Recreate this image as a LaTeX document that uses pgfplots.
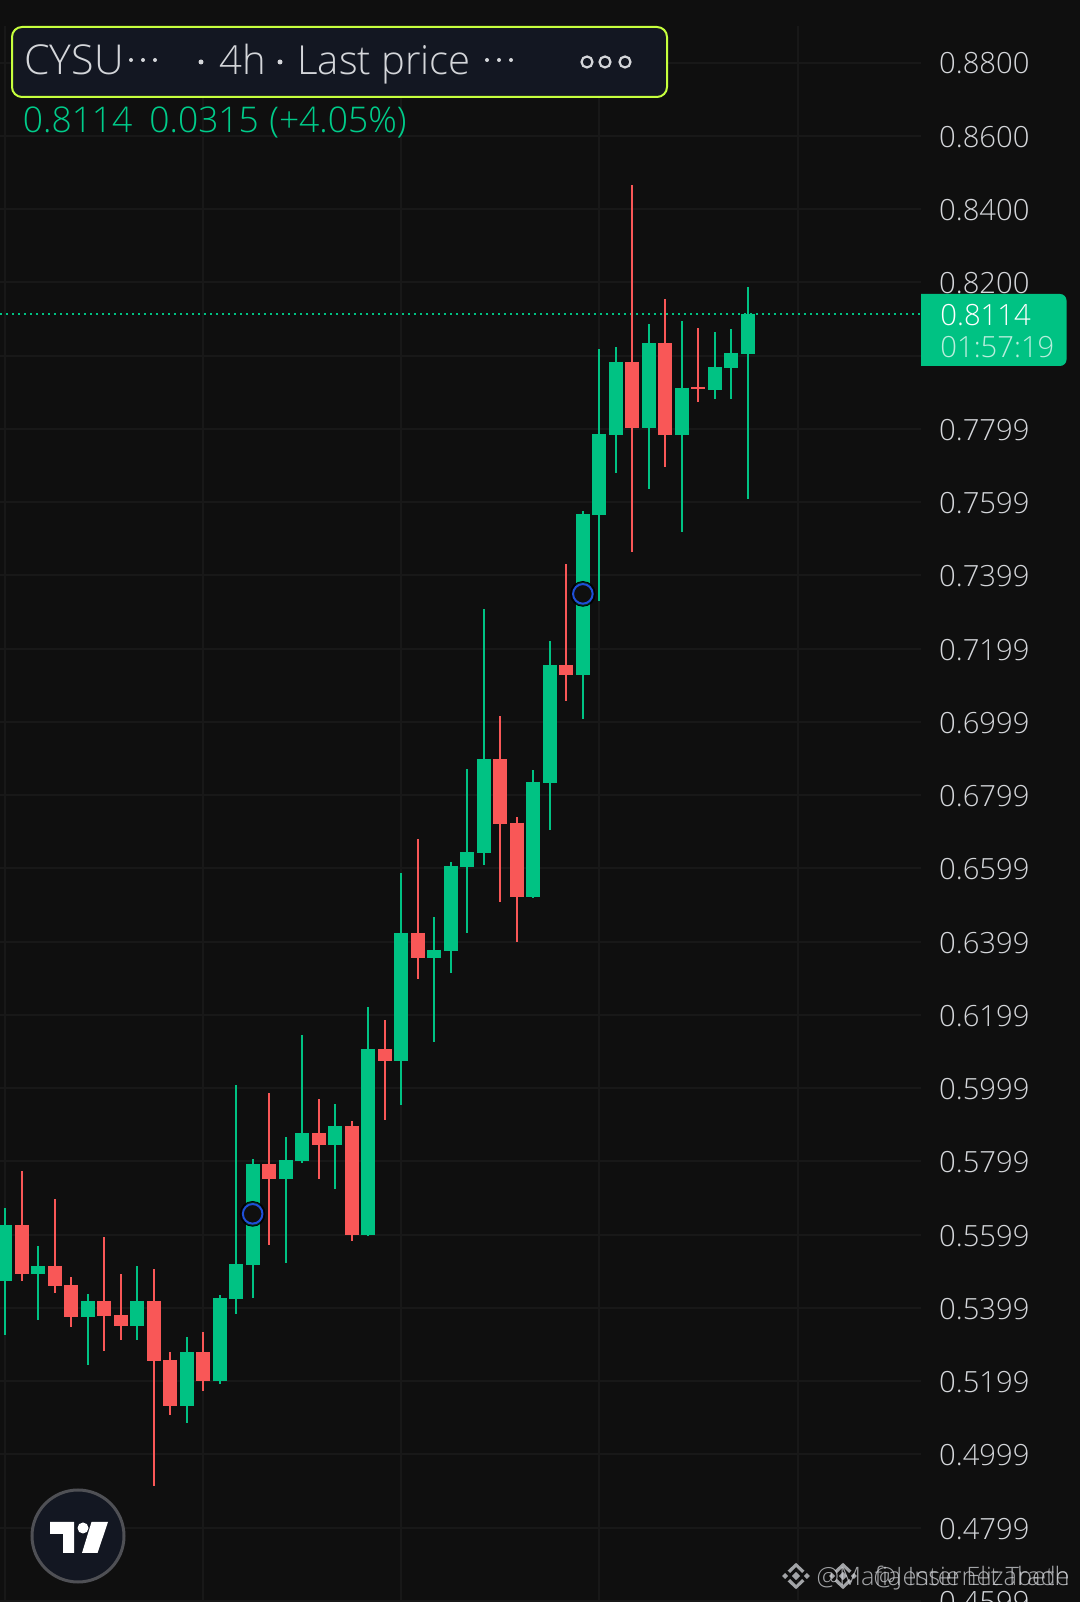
\documentclass[border=0pt]{standalone}
\usepackage{fontspec}
\setmainfont{Open Sans}[UprightFont=* Light]
\usepackage{pgfplots}
\usepackage{pgfplotstable}
\pgfplotsset{compat=1.18}
\definecolor{bg}{HTML}{0F0F0F}
\definecolor{gridc}{HTML}{181818}
\definecolor{up}{HTML}{00C283}
\definecolor{uptext}{HTML}{00CC8A}
\definecolor{down}{HTML}{F95757}
\definecolor{lab}{HTML}{D4D6DA}
\definecolor{panel}{HTML}{131722}
\definecolor{lime}{HTML}{C6FF3D}
\definecolor{ringb}{HTML}{1F4FD8}
\pgfplotstableread{
i top bot hi lo
0 0.5626 0.5473 0.5672 0.5325
2 0.5514 0.5492 0.5568 0.5366
5 0.5418 0.5374 0.5437 0.5243
8 0.5418 0.5350 0.5514 0.5312
11 0.5279 0.5131 0.5320 0.5085
13 0.5426 0.5200 0.5434 0.5191
14 0.5519 0.5424 0.6008 0.5382
15 0.5792 0.5516 0.5806 0.5426
17 0.5803 0.5751 0.5866 0.5522
18 0.5877 0.5800 0.6145 0.5795
20 0.5896 0.5844 0.5956 0.5724
22 0.6106 0.5598 0.6221 0.5596
24 0.6423 0.6073 0.6587 0.5953
26 0.6377 0.6355 0.6467 0.6125
27 0.6606 0.6374 0.6617 0.6314
28 0.6644 0.6603 0.6871 0.6423
29 0.6898 0.6642 0.7308 0.6609
32 0.6836 0.6521 0.6868 0.6519
33 0.7155 0.6833 0.7221 0.6704
35 0.7567 0.7128 0.7576 0.7008
36 0.7786 0.7565 0.8018 0.7330
37 0.7983 0.7783 0.8024 0.7679
39 0.8034 0.7802 0.8086 0.7636
41 0.7912 0.7783 0.8095 0.7518
43 0.7969 0.7906 0.8065 0.7881
44 0.8007 0.7966 0.8073 0.7881
45 0.8114 0.8004 0.8187 0.7608
}\greencandles
\pgfplotstableread{
i top bot hi lo
1 0.5626 0.5492 0.5773 0.5473
3 0.5514 0.5459 0.5697 0.5440
4 0.5462 0.5374 0.5484 0.5347
6 0.5418 0.5377 0.5593 0.5282
7 0.5380 0.5350 0.5492 0.5312
9 0.5418 0.5254 0.5505 0.4913
10 0.5257 0.5131 0.5279 0.5107
12 0.5279 0.5200 0.5333 0.5172
16 0.5792 0.5751 0.5986 0.5571
19 0.5877 0.5844 0.5970 0.5751
21 0.5896 0.5598 0.5910 0.5582
23 0.6106 0.6073 0.6185 0.5912
25 0.6423 0.6355 0.6680 0.6298
30 0.6898 0.6721 0.7016 0.6508
31 0.6724 0.6521 0.6740 0.6399
34 0.7155 0.7128 0.7431 0.7057
38 0.7983 0.7802 0.8466 0.7464
40 0.8034 0.7783 0.8155 0.7696
42 0.7914 0.7909 0.8075 0.7873
}\redcandles
\newcommand{\binance}[2]{%
\begin{scope}[shift={(#1,#2)},scale=1.2]
\fill (0,-3.5)--(3.5,0)--(0,3.5)--(-3.5,0)--cycle;
\fill (-9,-2.5)--(-6.5,0)--(-9,2.5)--(-11.5,0)--cycle;
\fill (9,-2.5)--(11.5,0)--(9,2.5)--(6.5,0)--cycle;
\fill (0,-11)--(7,-4.5)--(5,-2.5)--(0,-7.5)--(-5,-2.5)--(-7,-4.5)--cycle;
\fill (0,11)--(7,4.5)--(5,2.5)--(0,7.5)--(-5,2.5)--(-7,4.5)--cycle;
\end{scope}}
\begin{document}
\begin{tikzpicture}
\clip (0,0) rectangle (540pt,801pt);
\fill[bg] (0,0) rectangle (540pt,801pt);
\begin{axis}[
  at={(0,0)}, anchor=south west,
  scale only axis, width=460.5pt, height=788pt,
  xmin=-0.3028, xmax=55.48, ymin=0.4596, ymax=0.88998,
  axis line style={draw=none},
  major tick length=0pt,
  tick style={draw=none},
  xtick={0,12,24,36,48}, xticklabels={},
  ytick={0.88,0.859995,0.83999,0.819985,0.79998,0.779975,0.75997,0.739965,0.71996,0.699955,0.67995,0.659945,0.63994,0.619935,0.59993,0.579925,0.55992,0.539915,0.51991,0.499905,0.4799,0.459895},
  yticklabels={0.8800,0.8600,0.8400,0.8200,{},0.7799,0.7599,0.7399,0.7199,0.6999,0.6799,0.6599,0.6399,0.6199,0.5999,0.5799,0.5599,0.5399,0.5199,0.4999,0.4799,0.4599},
  yticklabel pos=right,
  yticklabel style={anchor=west, inner sep=0pt, xshift=8.9pt, yshift=-0.5pt, text=lab, font=\fontsize{14.6}{16}\selectfont},
  grid=major,
  grid style={line width=1pt, color=gridc},
  axis on top=false,
]
% last-price line
\addplot[up, line width=1pt, dash pattern=on 1pt off 2pt, forget plot] coordinates {(-0.31,0.8114)(55.5,0.8114)};
% wicks
\addplot[draw=none, mark=none, error bars/.cd, y dir=both, y explicit, error mark=none, error bar style={draw=up, line width=1pt}]
  table[x=i, y=top, y error plus expr=\thisrow{hi}-\thisrow{top}, y error minus expr=\thisrow{top}-\thisrow{lo}] {\greencandles};
\addplot[draw=none, mark=none, error bars/.cd, y dir=both, y explicit, error mark=none, error bar style={draw=down, line width=1pt}]
  table[x=i, y=top, y error plus expr=\thisrow{hi}-\thisrow{top}, y error minus expr=\thisrow{top}-\thisrow{lo}] {\redcandles};
% bodies
\addplot[draw=none, mark=none, error bars/.cd, y dir=minus, y explicit, error mark=none, error bar style={draw=up, line width=7pt}]
  table[x=i, y=top, y error minus expr=\thisrow{top}-\thisrow{bot}] {\greencandles};
\addplot[draw=none, mark=none, error bars/.cd, y dir=minus, y explicit, error mark=none, error bar style={draw=down, line width=7pt}]
  table[x=i, y=top, y error minus expr=\thisrow{top}-\thisrow{bot}] {\redcandles};
% event markers
\addplot[only marks, mark=*, mark size=6.2pt, mark options={draw=none, fill=black, fill opacity=0.75}] coordinates {(15,0.5656)(35,0.7349)};
\addplot[only marks, mark=*, mark size=4.9pt, mark options={draw=ringb, line width=1pt, fill=bg}] coordinates {(15,0.5656)(35,0.7349)};
\end{axis}
\begin{scope}[x=0.5pt, y=-0.5pt, yshift=801pt]
% price tag
\fill[up] (921,294) -- (1060,294) arc[start angle=-90,end angle=0,radius=6.5] -- (1066.5,359.5) arc[start angle=0,end angle=90,radius=6.5] -- (921,366) -- cycle;
\node[anchor=west, inner sep=0pt, text=white, font=\fontsize{14.6}{16}\selectfont] at (940,315) {0.8114};
\node[anchor=west, inner sep=0pt, text=white!72!up, font=\fontsize{14.6}{16}\selectfont] at (940,347) {01:57:19};
% legend box
\draw[lime, line width=1pt, fill=panel, rounded corners=5pt] (12,27) rectangle (667,97);
\begin{scope}[every node/.style={inner sep=0pt, anchor=base west, text=lab, font=\fontsize{20}{22}\selectfont}]
\node[font=\fontsize{20.6}{22}\selectfont] at (24,75) {CYSU};
\node at (219,75) {4h};
\node at (297,75) {Last price};
\foreach \xx in {131,143,155,487,499,511} \fill[lab] (\xx,60) circle (2);
\foreach \xx in {201,280} \fill[lab] (\xx,62) circle (2.5);
\foreach \xx in {587,605,625} \draw[lab, line width=1.1pt] (\xx,62) circle (5.5);
\end{scope}
\begin{scope}[every node/.style={inner sep=0pt, anchor=base west, text=uptext, font=\fontsize{17.7}{20}\selectfont}]
\node at (22.5,133) {0.8114};
\node at (149,133) {0.0315};
\node at (269,133) {(+4.05\%)};
\end{scope}
% logo
\fill[panel] (78,1536) circle (46);
\draw[color=gray!55!panel, line width=1.5pt] (78,1536) circle (46);
\fill[white] (50,1522)--(74,1522)--(74,1553)--(63,1553)--(63,1534)--(50,1534)--cycle;
\fill[white] (83,1528) circle (5.5);
\fill[white] (91.5,1522)--(108,1522)--(97.5,1553)--(82,1553)--cycle;
% watermarks
\begin{scope}[color=lab, opacity=0.75]
\binance{796}{1576}
\binance{843}{1576}
\node[anchor=base east, inner sep=0pt, text=lab, font=\fontsize{12.7}{14}\selectfont] at (1070,1585) {@Mafia Internet Trade};
\node[anchor=base east, inner sep=0pt, text=lab, font=\fontsize{12.7}{14}\selectfont] at (1070,1585) {@Jessie Elizabeth};
\end{scope}
\end{scope}
\end{tikzpicture}
\end{document}
